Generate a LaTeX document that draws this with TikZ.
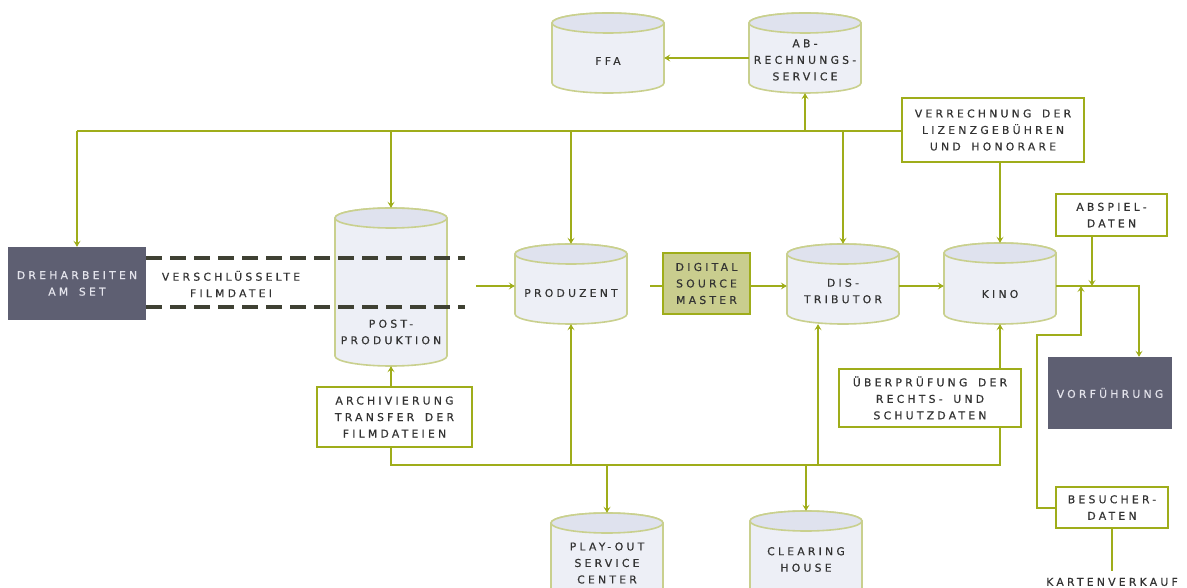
\documentclass[tikz,border=0pt]{standalone}
\usepackage{fontspec}
\newfontfamily\pxfont{DejaVu Sans}[LetterSpace=30,WordSpace=1.6,FakeBold=0.5]
\usetikzlibrary{arrows.meta}
\definecolor{conn}{HTML}{9FAD1A}
\definecolor{cylline}{HTML}{C9D08E}
\definecolor{cylbody}{HTML}{EDEFF6}
\definecolor{cyltop}{HTML}{DFE2EE}
\definecolor{darkbox}{HTML}{5E5F72}
\definecolor{dsmfill}{HTML}{C9CD8E}
\definecolor{txtcol}{HTML}{333333}
\definecolor{dashcol}{HTML}{3F4133}
\definecolor{lighttxt}{HTML}{E4E4EC}
\tikzset{
  txt/.style={font=\pxfont\fontsize{10.8}{16.5}\selectfont, text=txtcol, align=center, inner sep=1pt},
  cylshape/.style={draw=none, minimum width=112pt, inner sep=0pt},
  cylfill/.style={draw=cylline, fill=cylbody, line width=1.6pt},
  cyltopfill/.style={draw=cylline, fill=cyltop, line width=1.6pt},
  textbox/.style={txt, draw=conn, fill=white, line width=1.8pt, inner sep=0pt},
  darkrect/.style={txt, text=lighttxt, fill=darkbox, draw=none, inner sep=0pt},
  dsmbox/.style={txt, fill=dsmfill, draw=conn, line width=1.8pt, inner sep=0pt},
  conline/.style={draw=conn, line width=2pt},
  arr/.style={conline, -{Stealth[length=6pt,width=7pt,inset=2.5pt]}},
  filedash/.style={draw=dashcol, line width=4.5pt, dash pattern=on 16pt off 8pt}
}
\newcommand\cyl[6]{%
  \path[cylfill] ({#2-56},{#3+10}) -- ({#2-56},{#4-10})
     arc[start angle=180,end angle=360,x radius=56pt,y radius=10pt]
     -- ({#2+56},{#3+10})
     arc[start angle=0,end angle=180,x radius=56pt,y radius=10pt] -- cycle;
  \path[cyltopfill] (#2,{#3+10}) ellipse[x radius=56pt,y radius=10pt];
  \node[cylshape, minimum height={#4-#3}] (#1) at (#2,{(#3+#4)/2}) {};
  \node[txt] (#1T) at (#2,#5) {#6};
}
\begin{document}
\begin{tikzpicture}[x=1pt,y=-1pt]
\useasboundingbox (0,0) rectangle (1187,588);
\clip (0,0) rectangle (1187,588);

% cylinders
\cyl{ffa}{608}{13}{93}{61}{FFA}
\cyl{abr}{805}{13}{93}{60}{AB-\\RECHNUNGS-\\SERVICE}
\cyl{post}{391}{208}{366}{332}{POST-\\PRODUKTION}
\cyl{prod}{571}{244}{324}{293}{PRODUZENT}
\cyl{dist}{843}{244}{324}{291}{DIS-\\TRIBUTOR}
\cyl{kino}{1000}{243}{324}{294}{KINO}
\cyl{play}{607}{513}{620}{563}{PLAY-OUT\\SERVICE\\CENTER}
\cyl{clear}{806}{511}{620}{559.5}{CLEARING\\HOUSE}

% boxes
\node[darkrect, minimum width=138pt, minimum height=73pt] (dreh) at (77,283.5) {DREHARBEITEN\\AM SET};
\node[darkrect, minimum width=124pt, minimum height=72pt] (vor) at (1110,393) {VORFÜHRUNG};
\node[dsmbox, minimum width=87pt, minimum height=61pt] (dsm) at (706.5,283.5) {DIGITAL\\SOURCE\\MASTER};
\node[textbox, minimum width=182pt, minimum height=64pt] (ver) at (993,130) {VERRECHNUNG DER\\LIZENZGEBÜHREN\\UND HONORARE};
\node[textbox, minimum width=111pt, minimum height=42pt] (abs) at (1111.5,215) {ABSPIEL-\\DATEN};
\node[textbox, minimum width=182pt, minimum height=58pt] (ub) at (930,398) {ÜBERPRÜFUNG DER\\RECHTS- UND\\SCHUTZDATEN};
\node[textbox, minimum width=155pt, minimum height=60pt] (arch) at (394.5,417) {ARCHIVIERUNG\\TRANSFER DER\\FILMDATEIEN};
\node[textbox, minimum width=112pt, minimum height=41pt] (bes) at (1112,507.5) {BESUCHER-\\DATEN};
\node[txt] (kv) at (1112,582) {KARTENVERKAUF};
\node[txt] (vf) at (231,284) {VERSCHLÜSSELTE\\FILMDATEI};

% dashed file transfer
\coordinate (dtop) at (465,258);
\coordinate (dbot) at (465,307);
\draw[filedash] (dreh.east |- dtop) -- (dtop);
\draw[filedash] (dreh.east |- dbot) -- (dbot);

% helper points
\coordinate (row) at (0,286);
\coordinate (topy) at (0,131);
\coordinate (busy) at (0,465);
\coordinate (ppin) at (476,286);
\coordinate (dsmin) at (650,286);
\coordinate (abjoin) at (1092,286);
\coordinate (bjoin) at (1081,286);
\coordinate (bturn) at (1037,335);
\coordinate (ffay) at (0,58);

% top bus
\draw[conline] (dreh.north |- topy) -- (ver.west |- topy);
\draw[arr] (dreh.north |- topy) -- (dreh.north);
\draw[arr] (post.north |- topy) -- (post.north);
\draw[arr] (prod.north |- topy) -- (prod.north);
\draw[arr] (dist.north |- topy) -- (dist.north);
\draw[arr] (abr.south |- topy) -- (abr.south);
\draw[arr] (abr.west |- ffay) -- (ffa.east |- ffay);
\draw[arr] (ver.south -| kino.north) -- (kino.north);

% main row
\draw[arr] (ppin) -- (prod.west |- row);
\draw[conline] (dsmin) -- (dsm.west |- row);
\draw[arr] (dsm.east |- row) -- (dist.west |- row);
\draw[arr] (dist.east |- row) -- (kino.west |- row);
\draw[arr] (kino.east |- row) -| ([xshift=29pt]vor.north);
\draw[arr] (abs.south -| abjoin) -- (abjoin);
\draw[arr] (bes.west) -| (bturn) -| (bjoin);
\draw[conline, shorten >=6pt] (bes.south) -- (kv.north);

% bottom bus
\draw[arr] (arch.north -| post.south) -- (post.south);
\draw[conline] (arch.south -| post.south) -- (post.south |- busy) -- (kino.south |- busy) -- (ub.south -| kino.south);
\draw[arr] (ub.north -| kino.south) -- (kino.south);
\draw[arr] (prod.south |- busy) -- (prod.south);
\draw[arr] (play.north |- busy) -- (play.north);
\draw[arr] (clear.north |- busy) -- (clear.north);
\draw[arr] ([xshift=-25pt]dist.south |- busy) -- ([xshift=-25pt]dist.south);
\end{tikzpicture}
\end{document}
